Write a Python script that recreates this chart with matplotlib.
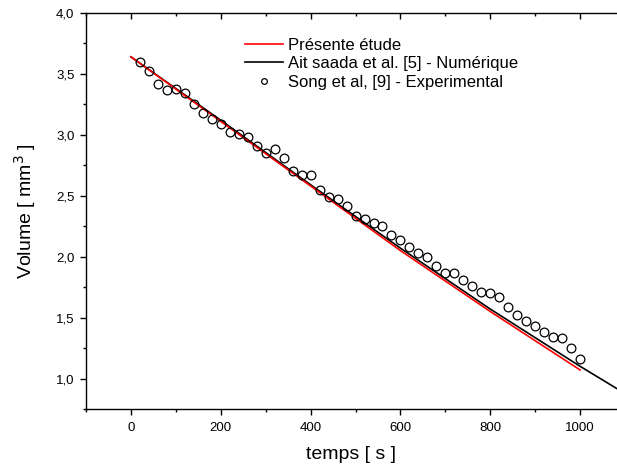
import matplotlib
matplotlib.use("Agg")
import matplotlib.pyplot as plt
from matplotlib.ticker import MultipleLocator, FuncFormatter

plt.rcParams['font.family'] = ['Liberation Sans', 'DejaVu Sans']

# Présente étude
t_present = [0, 200, 400, 600, 800, 1000]
v_present = [3.64, 3.11, 2.58, 2.05, 1.55, 1.07]

# Ait saada et al. [5] - Numérique
t_ait = [0, 200, 400, 600, 800, 1000, 1085]
v_ait = [3.64, 3.12, 2.59, 2.07, 1.57, 1.10, 0.91]

# Song et al, [9] - Experimental
t_song = list(range(20, 1001, 20))
v_song = [3.60, 3.52, 3.42, 3.37, 3.38, 3.34, 3.25, 3.18, 3.13, 3.09,
          3.02, 3.01, 2.98, 2.91, 2.85, 2.88, 2.81, 2.70, 2.67, 2.67,
          2.55, 2.49, 2.47, 2.42, 2.33, 2.31, 2.28, 2.25, 2.18, 2.14,
          2.08, 2.03, 2.00, 1.92, 1.87, 1.87, 1.81, 1.76, 1.71, 1.70,
          1.67, 1.59, 1.52, 1.47, 1.43, 1.38, 1.34, 1.33, 1.25, 1.16]

fig = plt.figure(figsize=(6.17, 4.66), dpi=100)
ax = fig.add_axes([86 / 617, 1 - 409 / 466, 1 - 86 / 617, (409 - 13) / 466])

ax.plot(t_present, v_present, color="red", lw=1.2, label="Présente étude", zorder=3)
ax.plot(t_ait, v_ait, color="black", lw=1.2, label="Ait saada et al. [5] - Numérique", zorder=2)
ax.plot(t_song, v_song, "o", mfc="none", mec="black", mew=0.9, ms=6.3,
        label="Song et al, [9] - Experimental", zorder=4)

ax.set_xlim(-100, 1082)
ax.set_ylim(0.75, 4.0)

ax.xaxis.set_major_locator(MultipleLocator(200))
ax.xaxis.set_minor_locator(MultipleLocator(100))
ax.yaxis.set_major_locator(MultipleLocator(0.5))
ax.yaxis.set_minor_locator(MultipleLocator(0.25))
ax.yaxis.set_major_formatter(FuncFormatter(lambda v, p: f"{v:.1f}".replace(".", ",")))

ax.spines['right'].set_visible(False)
for s in ['left', 'bottom', 'top']:
    ax.spines[s].set_linewidth(1.0)

ax.tick_params(axis='x', which='both', direction='out', top=True, labelsize=9.5, pad=5)
ax.tick_params(axis='y', which='both', direction='out', right=False, labelsize=9.5, pad=4)
ax.tick_params(which='major', length=4.3, width=1.0)
ax.tick_params(which='minor', length=2.5, width=1.0)
# top ticks point inward
for tk in ax.xaxis.get_major_ticks() + ax.xaxis.get_minor_ticks():
    tk.tick2line.set_marker(matplotlib.lines.TICKDOWN)

ax.set_xlabel("temps [ s ]", fontsize=14, labelpad=9)
ax.set_ylabel("Volume [ mm$^3$ ]", fontsize=14, labelpad=13)

ax.legend(loc="upper left", bbox_to_anchor=(245 / 617, 1 - 38 / 466),
          bbox_transform=fig.transFigure, frameon=False, fontsize=12,
          handlelength=2.3, handletextpad=0.3, labelspacing=0.2,
          borderpad=0, borderaxespad=0, markerscale=0.65)

fig.savefig("out.png", dpi=100)
